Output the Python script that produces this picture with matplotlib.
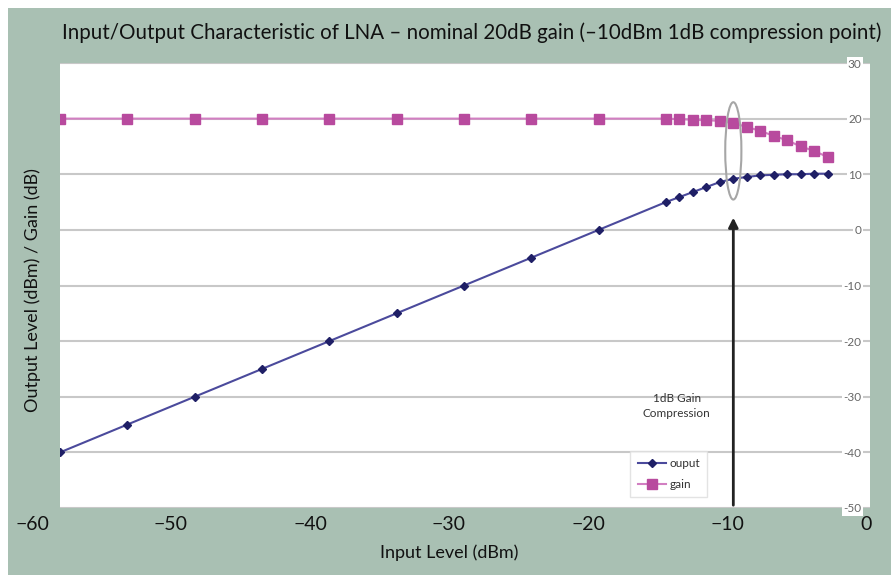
import matplotlib
matplotlib.use("Agg")
import matplotlib.pyplot as plt
from matplotlib.patches import Ellipse, Rectangle

# data
input_dbm = [-60, -55, -50, -45, -40, -35, -30, -25, -20, -15,
             -14, -13, -12, -11, -10, -9, -8, -7, -6, -5, -4, -3]
output_dbm = [-40, -35, -30, -25, -20, -15, -10, -5, 0, 5,
              5.9, 6.8, 7.7, 8.6, 9.2, 9.5, 9.8, 9.9, 10.0, 10.0, 10.1, 10.1]
gain_db = [20, 20, 20, 20, 20, 20, 20, 20, 20, 20,
           19.9, 19.8, 19.7, 19.6, 19.2, 18.5, 17.8, 16.9, 16.1, 15.0, 14.2, 13.1]
y_ticks = [-50, -40, -30, -20, -10, 0, 10, 20, 30]
x_ticks = [-60, -50, -40, -30, -20, -10, 0]

green = "#a9c0b3"
W, H = 891, 575

plt.rcParams['font.family'] = ['Lato', 'DejaVu Sans']
plt.rcParams['axes.unicode_minus'] = False

fig = plt.figure(figsize=(W / 100, H / 100), dpi=100)
fig.patch.set_facecolor("white")
fig.patches.append(Rectangle((8 / W, 0), 1, (H - 8) / H, transform=fig.transFigure,
                             facecolor=green, edgecolor="none", zorder=-10))

# inner chart (white plot area)
ax = fig.add_axes([60 / W, (H - 508) / H, 810 / W, 445 / H])
ax.set_facecolor("white")
ax.set_xlim(-60, 0.15)
ax.set_ylim(-50, 30)
for s in ax.spines.values():
    s.set_visible(False)
ax.set_xticks([])
ax.set_yticks(y_ticks)
ax.yaxis.tick_right()
ax.tick_params(axis='y', length=0, pad=-6, labelsize=8.5, labelcolor="#666666")
for t in ax.get_yticklabels():
    t.set_ha("right")
    t.set_bbox(dict(facecolor="white", edgecolor="none", pad=1))
ax.grid(axis='y', color="#c8c8c8", lw=1.5)
ax.set_axisbelow(True)

ax.plot(input_dbm, output_dbm, color="#4b4a9c", lw=1.5, marker="D", ms=4,
        mfc="#1f1f66", mec="#1f1f66", label="ouput", zorder=3)
ax.plot(input_dbm, gain_db, color="#d27fc2", lw=1.5, marker="s", ms=6.5,
        mfc="#b84a9e", mec="#b84a9e", label="gain", zorder=3)

ax.add_patch(Ellipse((-10, 14.2), 1.2, 17.5, fill=False, edgecolor="#a6a6a6", lw=1.5, zorder=4))
ax.annotate("", xy=(-10, 2.7), xytext=(-10, -50),
            arrowprops=dict(arrowstyle="-|>", color="#222222", lw=2, mutation_scale=14))
ax.text(-14.2, -31.7, "1dB Gain\nCompression", ha="center", va="center",
        fontsize=8.5, color="#333333", linespacing=1.4)

leg = ax.legend(loc="lower left", bbox_to_anchor=(0.697, 0.012), fontsize=8.5,
                frameon=True, fancybox=False, borderpad=0.6, handlelength=2.4,
                labelspacing=0.8, handletextpad=0.3)
leg.get_frame().set_edgecolor("#dddddd")
leg.get_frame().set_linewidth(1)
for t in leg.get_texts():
    t.set_color("#333333")

# outer axis labels
ax2 = fig.add_axes([32 / W, (H - 508) / H, 834 / W, 445 / H])
ax2.set_facecolor("none")
ax2.set_xlim(-60, 0)
for s in ax2.spines.values():
    s.set_visible(False)
ax2.set_yticks([])
ax2.set_xticks(x_ticks)
ax2.set_xticklabels([str(v).replace("-", "\u2212") for v in x_ticks])
ax2.tick_params(axis='x', length=0, pad=6, labelsize=14, labelcolor="#111111")
ax2.set_xlabel("Input Level (dBm)", fontsize=13, color="#111111", labelpad=8)

fig.text(33 / W, 1 - 290 / H, "Output Level (dBm) / Gain (dB)", rotation=90,
         ha="center", va="center", fontsize=13, color="#111111")
fig.text(472 / W, 1 - 33 / H,
         "Input/Output Characteristic of LNA \u2013 nominal 20dB gain (\u201310dBm 1dB compression point)",
         ha="center", va="center", fontsize=14.8, color="#111111")

fig.savefig("out.png", dpi=100)
